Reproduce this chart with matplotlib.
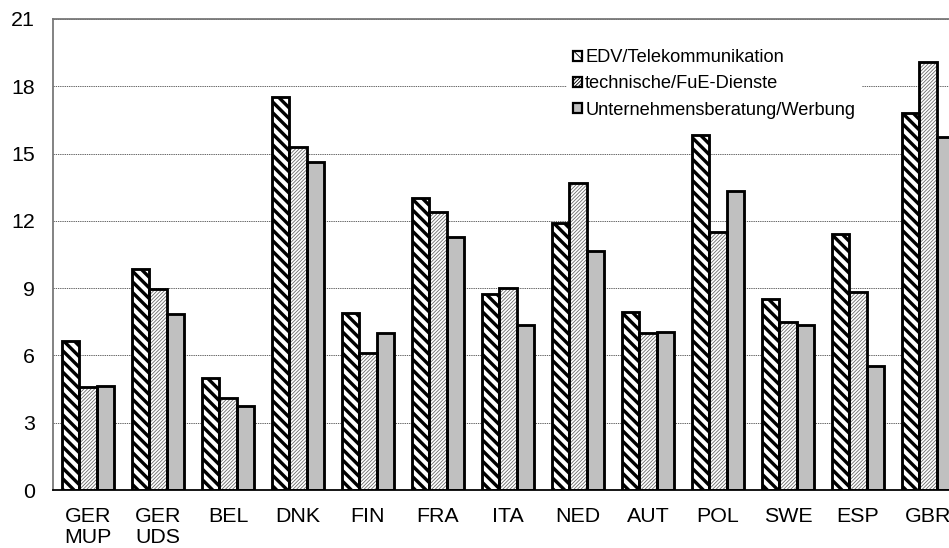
import numpy as np
import matplotlib
matplotlib.use("Agg")
import matplotlib.pyplot as plt
from matplotlib.patches import Patch

plt.rcParams['font.family'] = ['Liberation Sans', 'DejaVu Sans']

# Laender / Datenquellen
laender = ['GER\nMUP', 'GER\nUDS', 'BEL', 'DNK', 'FIN', 'FRA', 'ITA',
           'NED', 'AUT', 'POL', 'SWE', 'ESP', 'GBR']

# Anteile je Dienstleistungszweig
edv = [6.64, 9.85, 5.01, 17.52, 7.89, 13.0, 8.72, 11.89, 7.92, 15.84, 8.52, 11.4, 16.79]
technik = [4.6, 8.96, 4.09, 15.3, 6.11, 12.41, 9.02, 13.69, 7.01, 11.49, 7.49, 8.84, 19.1]
beratung = [4.64, 7.83, 3.73, 14.62, 6.99, 11.28, 7.36, 10.64, 7.06, 13.33, 7.34, 5.51, 15.72]

namen = ['EDV/Telekommunikation', 'technische/FuE-Dienste',
         'Unternehmensberatung/Werbung']

DPI = 64
fig = plt.figure(figsize=(949 / DPI, 548 / DPI), dpi=DPI)
ax = fig.add_axes([53 / 949, 58 / 548, 910 / 949, 471 / 548])

x = np.arange(len(laender))
b = 0.247

# (Werte, Flaeche, Schraffur, Schraffurfarbe, Schraffurbreite)
stile = [
    (edv, 'white', '\\\\', 'black', 3.8),
    (technik, 'white', '//////', '#666666', 0.9),
    (beratung, '#c0c0c0', None, '#c0c0c0', 1.0),
]

for i, (werte, fc, hatch, hc, hlw) in enumerate(stile):
    pos = x + (i - 1) * b
    plt.rcParams['hatch.linewidth'] = hlw
    bars = ax.bar(pos, werte, width=b, color=fc, hatch=hatch, edgecolor=hc,
                  linewidth=0, zorder=2)
    for p in bars:
        if hasattr(p, 'set_hatch_linewidth'):
            p.set_hatch_linewidth(hlw)
    ax.bar(pos, werte, width=b, fill=False, edgecolor='black',
           linewidth=3.2, zorder=3)

ax.set_xlim(-0.5, 12.5)
ax.set_ylim(0, 21)
ax.set_yticks(np.arange(0, 22, 3))
ax.set_xticks(x)
ax.set_xticklabels(laender, fontsize=24, linespacing=1.12)
ax.tick_params(axis='both', length=0, labelsize=24)
ax.tick_params(axis='y', pad=20)
ax.tick_params(axis='x', pad=19)

ax.yaxis.grid(True, linestyle=(0, (1.5, 1.0)), color='#555555', linewidth=1.0, zorder=0)
ax.set_axisbelow(True)

for s in ['left', 'top']:
    ax.spines[s].set_color('#777777')
    ax.spines[s].set_linewidth(2.0)
ax.spines['bottom'].set_color('black')
ax.spines['bottom'].set_linewidth(2.0)
ax.spines['right'].set_visible(False)

# Legende mit kleinen schraffierten Kaestchen
griffe = []
for (werte, fc, hatch, hc, hlw), name in zip(stile, namen):
    p = Patch(facecolor=fc, hatch=hatch, edgecolor='black', linewidth=2.5, label=name)
    griffe.append(p)

leg = fig.legend(handles=griffe, loc='upper left',
                 bbox_to_anchor=(567 / 949, 1 - 43 / 548),
                 frameon=True, fancybox=False, framealpha=1, edgecolor='white',
                 fontsize=20.5, handlelength=0.5, handleheight=0.5,
                 handletextpad=0.15, labelspacing=0.5, borderpad=0.35,
                 borderaxespad=0)
leg.get_frame().set_linewidth(0)

fig.savefig('out.png', dpi=DPI)
